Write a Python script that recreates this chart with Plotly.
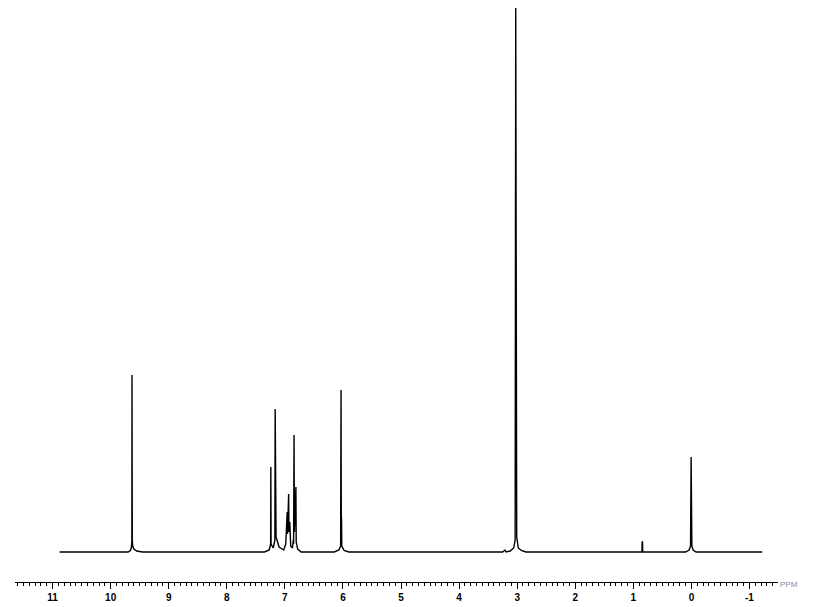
import plotly.graph_objects as go

# Spectrum outline: chemical shift (ppm) and intensity (baseline = 0)
ppm = [10.88, 9.70, 9.66, 9.645, 9.635, 9.632, 9.628, 9.62, 9.60, 9.55, 9.45,
       7.35, 7.27, 7.245, 7.242, 7.238, 7.20, 7.172, 7.167, 7.162, 7.158, 7.152, 7.10, 7.02,
       6.985, 6.975, 6.97, 6.96, 6.955, 6.935, 6.93, 6.915, 6.90, 6.87, 6.855, 6.85,
       6.842, 6.836, 6.81, 6.805, 6.78, 6.72,
       6.15, 6.07, 6.04, 6.033, 6.028, 6.025, 6.02, 5.98, 5.90,
       3.25, 3.21, 3.19, 3.12, 3.06, 3.035, 3.025, 3.02, 3.015, 3.008, 2.98, 2.93, 2.85,
       0.90, 0.852, 0.848, 0.842, 0.838,
       0.10, 0.04, 0.015, 0.005, 0.0, -0.003, -0.008, -0.03, -0.08, -1.22]
intensity = [0, 0, 1.5, 4, 10, 177, 12, 6, 3, 1, 0,
             0, 2, 8, 85, 8, 4, 12, 143, 40, 112, 15, 5, 2,
             8, 33, 15, 40, 18, 58, 20, 30, 6, 4, 12, 8,
             117, 20, 65, 10, 3, 0,
             0, 2, 6, 162, 10, 35, 6, 1.5, 0,
             0, 2, 0, 1, 4, 12, 544, 20, 87, 15, 4, 1.5, 0,
             0, 0, 10, 10, 0,
             0, 2, 6, 95, 10, 26, 6, 2, 0, 0]

tick_values = [11, 10, 9, 8, 7, 6, 5, 4, 3, 2, 1, 0, -1]
tick_labels = ["11", "10", "9", "8", "7", "6", "5", "4", "3", "2", "1", "0", "-1"]

fig = go.Figure()
fig.add_trace(go.Scatter(x=ppm, y=intensity, mode="lines",
                         line=dict(color="black", width=1.4), hoverinfo="skip"))

fig.update_layout(
    width=815, height=607,
    margin=dict(l=15, r=37, t=0, b=25),
    paper_bgcolor="white", plot_bgcolor="white",
    showlegend=False,
    xaxis=dict(range=[11.647, -1.491], showgrid=False, zeroline=False,
               showline=True, linecolor="black", linewidth=1,
               ticks="outside", ticklen=6, tickwidth=1, tickcolor="black",
               tickvals=tick_values, ticktext=tick_labels,
               tickfont=dict(family="Liberation Sans, Arial, sans-serif", size=10,
                             color="black", weight="bold"),
               minor=dict(dtick=0.1, tick0=0, ticks="outside", ticklen=3,
                          tickwidth=1, tickcolor="black", showgrid=False)),
    yaxis=dict(range=[-30, 552], visible=False, fixedrange=True),
    annotations=[dict(text="PPM", x=1.0, y=-0.004, xref="paper", yref="paper",
                      xanchor="left", yanchor="middle", showarrow=False,
                      font=dict(family="Liberation Sans, Arial, sans-serif", size=8,
                                color="#8c8c8c"))],
)

fig.write_html("out.html", config={"displayModeBar": False})

# remove the default page margin so the figure sits at the window's top-left corner
with open("out.html", encoding="utf-8") as f:
    html = f.read()
html = html.replace("<head>", "<head><style>html,body{margin:0;padding:0;overflow:hidden;}</style>", 1)
with open("out.html", "w", encoding="utf-8") as f:
    f.write(html)
